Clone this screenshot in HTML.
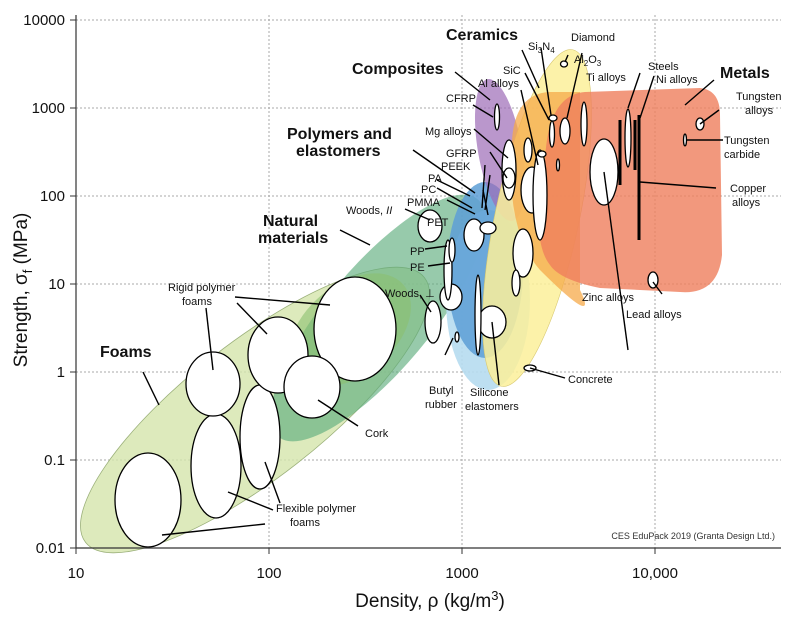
<!DOCTYPE html>
<html><head><meta charset="utf-8"><style>
body{margin:0;background:#fff}
svg{display:block;font-family:"Liberation Sans",sans-serif}
</style></head><body>
<svg width="800" height="619" viewBox="0 0 800 619" xmlns="http://www.w3.org/2000/svg">
<rect width="800" height="619" fill="#fff"/>
<!-- grid -->
<g stroke="#aaa" stroke-dasharray="2,2" stroke-width="1">
<line x1="76" y1="20" x2="781" y2="20"/><line x1="76" y1="108" x2="781" y2="108"/>
<line x1="76" y1="196" x2="781" y2="196"/><line x1="76" y1="284" x2="781" y2="284"/>
<line x1="76" y1="372" x2="781" y2="372"/><line x1="76" y1="460" x2="781" y2="460"/>
<line x1="269" y1="15" x2="269" y2="548"/><line x1="462" y1="15" x2="462" y2="548"/>
<line x1="655" y1="15" x2="655" y2="548"/>
</g>
<!-- envelopes -->
<ellipse cx="255" cy="410" rx="215" ry="68" transform="rotate(-38 255 410)" fill="#d5e5ab" fill-opacity="0.8" stroke="#9bb07a" stroke-width="0.8"/>
<ellipse cx="378" cy="318" rx="155" ry="52" transform="rotate(-50 378 318)" fill="#5fae7e" fill-opacity="0.65"/>
<ellipse cx="350" cy="330" rx="70" ry="45" transform="rotate(-40 350 330)" fill="#8cc070" fill-opacity="0.6"/>
<ellipse cx="488" cy="300" rx="42" ry="90" fill="#b6dcef" fill-opacity="0.9"/>
<ellipse cx="485" cy="270" rx="38" ry="88" fill="#5d9fd6" fill-opacity="0.85"/>
<ellipse cx="500" cy="150" rx="22" ry="72" transform="rotate(-10 500 150)" fill="#9c6bb6" fill-opacity="0.7"/>
<ellipse cx="537" cy="218" rx="42" ry="172" transform="rotate(12 537 218)" fill="#fbf09a" fill-opacity="0.85" stroke="#d8c870" stroke-width="0.6"/>
<path d="M548 92 Q515 95 512 140 Q505 230 540 270 Q600 330 580 290 L580 92 Z" fill="#f5a94a" fill-opacity="0.75"/>
<path d="M585 92 L700 88 Q720 90 720 115 L722 255 Q718 295 680 292 L600 288 Q560 280 550 265 Q530 240 545 160 Q548 95 585 92 Z" fill="#ef7e5c" fill-opacity="0.8"/>
<!-- bubbles -->
<g fill="#fff" stroke="#000" stroke-width="1.3">
<ellipse cx="148" cy="500" rx="33" ry="47"/>
<ellipse cx="216" cy="466" rx="25" ry="52"/>
<ellipse cx="213" cy="384" rx="27" ry="32"/>
<ellipse cx="260" cy="437" rx="20" ry="52"/>
<ellipse cx="278" cy="355" rx="30" ry="38"/>
<ellipse cx="355" cy="329" rx="41" ry="52"/>
<ellipse cx="312" cy="387" rx="28" ry="31"/>
<ellipse cx="433" cy="322" rx="8" ry="21"/>
<ellipse cx="451" cy="297" rx="11" ry="13"/>
<ellipse cx="430" cy="226" rx="12" ry="16"/>
<ellipse cx="492" cy="322" rx="14" ry="16"/>
<ellipse cx="448" cy="270" rx="4" ry="30"/>
<ellipse cx="452" cy="250" rx="3" ry="12"/>
<ellipse cx="474" cy="235" rx="10" ry="16"/>
<ellipse cx="488" cy="228" rx="8" ry="6"/>
<ellipse cx="478" cy="315" rx="3" ry="40"/>
<ellipse cx="497" cy="117" rx="2.5" ry="13"/>
<ellipse cx="509" cy="170" rx="7" ry="30"/>
<ellipse cx="509" cy="178" rx="6" ry="10"/>
<ellipse cx="532" cy="190" rx="11" ry="23"/>
<ellipse cx="528" cy="150" rx="4" ry="12"/>
<ellipse cx="540" cy="195" rx="7" ry="45"/>
<ellipse cx="523" cy="253" rx="10" ry="24"/>
<ellipse cx="516" cy="283" rx="4" ry="13"/>
<ellipse cx="542" cy="154" rx="4" ry="3"/>
<ellipse cx="552" cy="134" rx="2.5" ry="13"/>
<ellipse cx="553" cy="118" rx="4" ry="3"/>
<ellipse cx="565" cy="131" rx="5" ry="13"/>
<ellipse cx="564" cy="64" rx="3.5" ry="3"/>
<ellipse cx="584" cy="124" rx="3" ry="22"/>
<ellipse cx="604" cy="172" rx="14" ry="33"/>
<ellipse cx="628" cy="138" rx="3" ry="29"/>
<ellipse cx="653" cy="280" rx="5" ry="8"/>
<ellipse cx="700" cy="124" rx="4" ry="6"/>
<ellipse cx="685" cy="140" rx="1.5" ry="6"/>
<ellipse cx="530" cy="368" rx="6" ry="3"/>
<ellipse cx="457" cy="337" rx="2" ry="5"/>
<ellipse cx="558" cy="165" rx="1.5" ry="6"/>
</g>
<g stroke="#000" stroke-width="3">
<line x1="620" y1="120" x2="620" y2="185"/>
<line x1="639" y1="115" x2="639" y2="240"/>
<line x1="635" y1="120" x2="635" y2="170"/>
</g>
<!-- leader lines -->
<g stroke="#000" stroke-width="1.4" fill="none">
<line x1="143" y1="372" x2="159" y2="405"/>
<line x1="206" y1="308" x2="213" y2="370"/>
<line x1="237" y1="303" x2="267" y2="334"/>
<line x1="235" y1="297" x2="330" y2="305"/>
<line x1="228" y1="492" x2="273" y2="510"/>
<line x1="265" y1="462" x2="280" y2="503"/>
<line x1="162" y1="535" x2="265" y2="524"/>
<line x1="318" y1="400" x2="358" y2="426"/>
<line x1="340" y1="230" x2="370" y2="245"/>
<line x1="405" y1="209" x2="430" y2="220"/>
<line x1="420" y1="295" x2="431" y2="312"/>
<line x1="445" y1="355" x2="453" y2="338"/>
<line x1="425" y1="249" x2="447" y2="246"/>
<line x1="428" y1="266" x2="450" y2="263"/>
<line x1="413" y1="150" x2="475" y2="193"/>
<line x1="437" y1="180" x2="470" y2="196"/>
<line x1="437" y1="188" x2="472" y2="208"/>
<line x1="447" y1="200" x2="475" y2="214"/>
<line x1="485" y1="165" x2="482" y2="208"/>
<line x1="490" y1="175" x2="485" y2="210"/>
<line x1="483" y1="190" x2="488" y2="215"/>
<line x1="473" y1="105" x2="493" y2="117"/>
<line x1="474" y1="129" x2="508" y2="158"/>
<line x1="490" y1="152" x2="507" y2="178"/>
<line x1="455" y1="72" x2="490" y2="100"/>
<line x1="521" y1="90" x2="538" y2="165"/>
<line x1="525" y1="73" x2="549" y2="120"/>
<line x1="522" y1="50" x2="539" y2="88"/>
<line x1="541" y1="48" x2="551" y2="115"/>
<line x1="568" y1="55" x2="565" y2="62"/>
<line x1="582" y1="53" x2="567" y2="118"/>
<line x1="628" y1="350" x2="604" y2="172"/>
<line x1="662" y1="294" x2="653" y2="282"/>
<line x1="640" y1="73" x2="628" y2="108"/>
<line x1="654" y1="76" x2="640" y2="118"/>
<line x1="714" y1="80" x2="685" y2="105"/>
<line x1="719" y1="110" x2="700" y2="124"/>
<line x1="723" y1="140" x2="686" y2="140"/>
<line x1="716" y1="188" x2="640" y2="182"/>
<line x1="499" y1="385" x2="492" y2="322"/>
<line x1="565" y1="378" x2="530" y2="368"/>
</g>
<!-- frame -->
<path d="M76 15 L76 548 L781 548" stroke="#333" stroke-width="1.2" fill="none"/>
<g stroke="#333" stroke-width="1">
<line x1="70" y1="20" x2="76" y2="20"/><line x1="70" y1="108" x2="76" y2="108"/>
<line x1="70" y1="196" x2="76" y2="196"/><line x1="70" y1="284" x2="76" y2="284"/>
<line x1="70" y1="372" x2="76" y2="372"/><line x1="70" y1="460" x2="76" y2="460"/>
<line x1="70" y1="548" x2="76" y2="548"/>
<line x1="76" y1="548" x2="76" y2="554"/><line x1="269" y1="548" x2="269" y2="554"/>
<line x1="462" y1="548" x2="462" y2="554"/><line x1="655" y1="548" x2="655" y2="554"/>
</g>
<!-- tick labels -->
<g font-size="15" fill="#111" text-anchor="end">
<text x="65" y="25">10000</text><text x="65" y="113">1000</text>
<text x="65" y="201">100</text><text x="65" y="289">10</text>
<text x="65" y="377">1</text><text x="65" y="465">0.1</text>
<text x="65" y="553">0.01</text>
</g>
<g font-size="15" fill="#111" text-anchor="middle">
<text x="76" y="578">10</text><text x="269" y="578">100</text>
<text x="462" y="578">1000</text><text x="655" y="578">10,000</text>
</g>
<text x="430" y="607" font-size="19" text-anchor="middle" fill="#111">Density, ρ  (kg/m<tspan font-size="13" dy="-7">3</tspan><tspan dy="7">)</tspan></text>
<text transform="translate(27 290) rotate(-90)" font-size="19" text-anchor="middle" fill="#111">Strength, σ<tspan font-size="13" dy="5">f</tspan><tspan dy="-5"> (MPa)</tspan></text>
<!-- bold labels -->
<g font-size="16" font-weight="bold" fill="#111">
<text x="100" y="357">Foams</text>
<text x="263" y="226">Natural</text><text x="258" y="243">materials</text>
<text x="287" y="139">Polymers and</text><text x="296" y="156">elastomers</text>
<text x="352" y="74">Composites</text>
<text x="446" y="40">Ceramics</text>
<text x="720" y="78">Metals</text>
</g>
<g font-size="11" fill="#111">
<text x="168" y="291">Rigid polymer</text><text x="182" y="305">foams</text>
<text x="276" y="512">Flexible polymer</text><text x="290" y="526">foams</text>
<text x="365" y="437">Cork</text>
<text x="346" y="214">Woods, <tspan font-style="italic">II</tspan></text>
<text x="385" y="297">Woods, ⊥</text>
<text x="429" y="394">Butyl</text><text x="425" y="408">rubber</text>
<text x="470" y="396">Silicone</text><text x="465" y="410">elastomers</text>
<text x="568" y="383">Concrete</text>
<text x="427" y="226">PET</text>
<text x="410" y="255">PP</text><text x="410" y="271">PE</text>
<text x="407" y="206">PMMA</text><text x="421" y="193">PC</text><text x="428" y="182">PA</text>
<text x="441" y="170">PEEK</text><text x="446" y="157">GFRP</text>
<text x="425" y="135">Mg alloys</text>
<text x="446" y="102">CFRP</text>
<text x="478" y="87">Al alloys</text>
<text x="503" y="74">SiC</text>
<text x="528" y="50">Si<tspan font-size="8" dy="3">3</tspan><tspan dy="-3">N</tspan><tspan font-size="8" dy="3">4</tspan></text>
<text x="571" y="41">Diamond</text>
<text x="574" y="63">Al<tspan font-size="8" dy="3">2</tspan><tspan dy="-3">O</tspan><tspan font-size="8" dy="3">3</tspan></text>
<text x="586" y="81">Ti alloys</text>
<text x="648" y="70">Steels</text><text x="656" y="83">Ni alloys</text>
<text x="736" y="100">Tungsten</text><text x="745" y="114">alloys</text>
<text x="724" y="144">Tungsten</text><text x="724" y="158">carbide</text>
<text x="730" y="192">Copper</text><text x="732" y="206">alloys</text>
<text x="582" y="301">Zinc alloys</text>
<text x="626" y="318">Lead alloys</text>
</g>
<text x="775" y="539" font-size="9" fill="#333" text-anchor="end">CES EduPack 2019 (Granta Design Ltd.)</text>
</svg>
</body></html>
